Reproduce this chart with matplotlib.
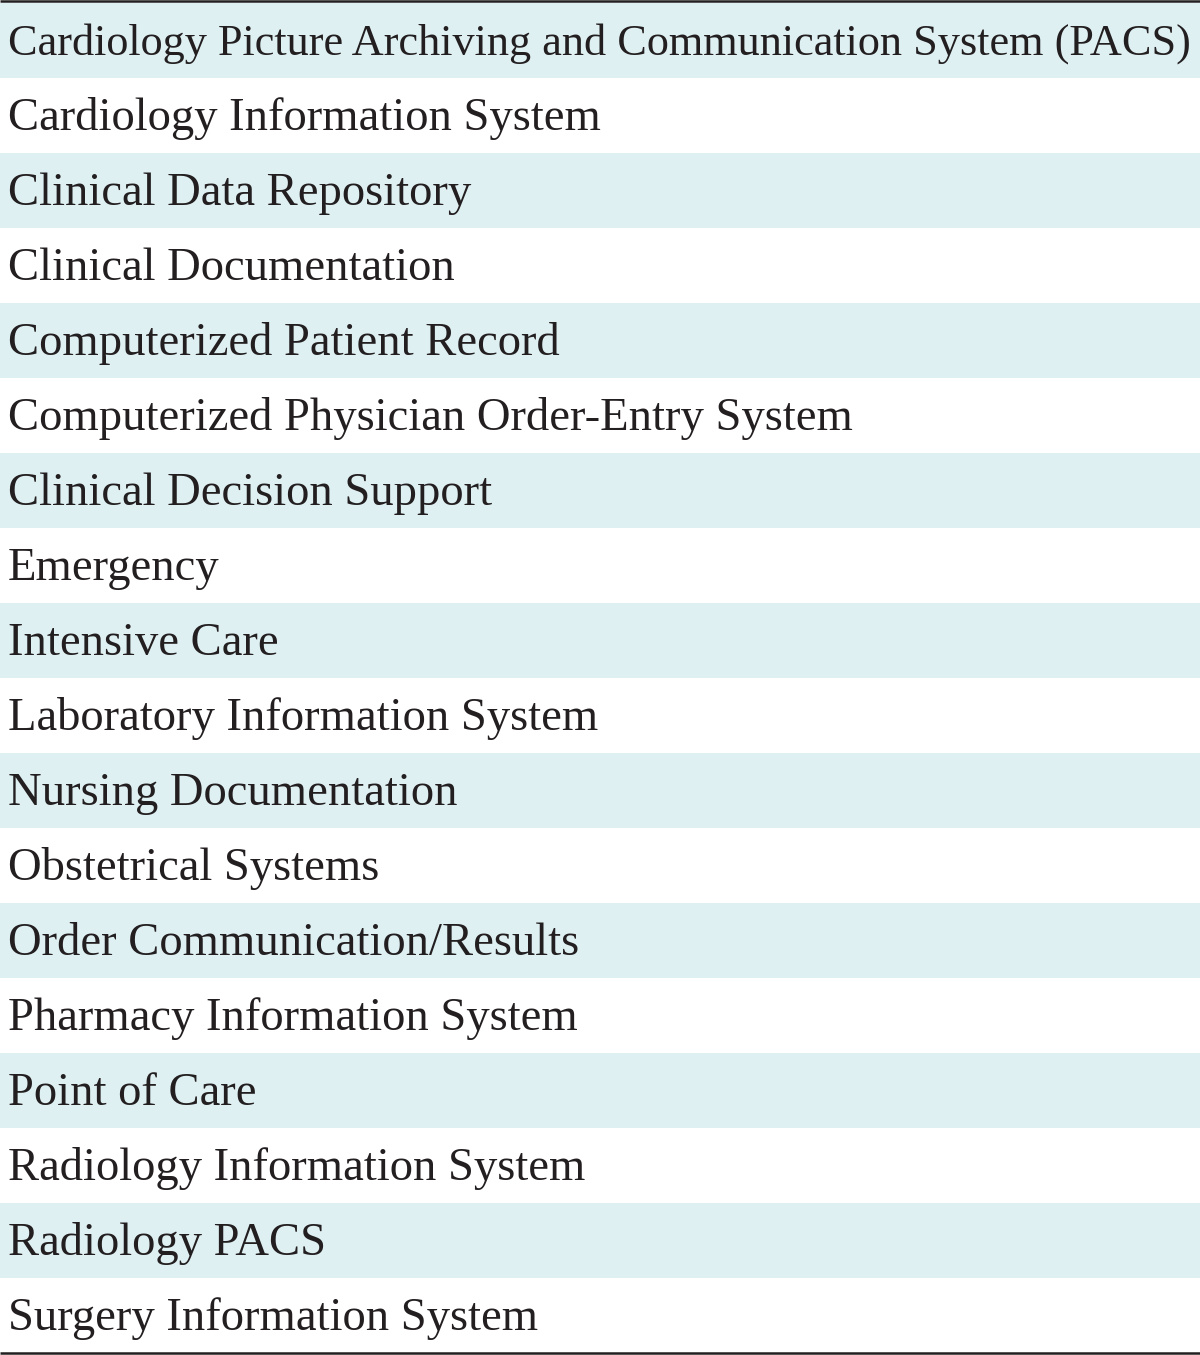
import matplotlib
matplotlib.use("Agg")
import matplotlib.pyplot as plt
from matplotlib.patches import Rectangle

# Sistemas listados na tabela
systems = [
    "Cardiology Picture Archiving and Communication System (PACS)",
    "Cardiology Information System",
    "Clinical Data Repository",
    "Clinical Documentation",
    "Computerized Patient Record",
    "Computerized Physician Order-Entry System",
    "Clinical Decision Support",
    "Emergency",
    "Intensive Care",
    "Laboratory Information System",
    "Nursing Documentation",
    "Obstetrical Systems",
    "Order Communication/Results",
    "Pharmacy Information System",
    "Point of Care",
    "Radiology Information System",
    "Radiology PACS",
    "Surgery Information System",
]

W, H = 1200, 1355
top, row_h = 2.5, 75.0
shade = "#dff0f3"
fsize = 33.6

fig = plt.figure(figsize=(12, 13.55), dpi=100)
ax = fig.add_axes([0, 0, 1, 1])
ax.set_xlim(0, W)
ax.set_ylim(H, 0)
ax.axis("off")

texts = []
for i, name in enumerate(systems):
    y0 = top + i * row_h
    if i % 2 == 0:
        ax.add_patch(Rectangle((0, y0), W, row_h, facecolor=shade, edgecolor="none"))
    t = ax.text(8, y0 + 52.5, name, fontsize=fsize, family="Liberation Serif",
                color="#231f20", va="baseline", ha="left")
    texts.append(t)

# encolhe o texto que não cabe na largura (linha do PACS)
renderer = fig.canvas.get_renderer()
for t in texts:
    bb = t.get_window_extent(renderer)
    if bb.x1 > 1191:
        t.set_fontsize(fsize * (1183 / bb.width))

# linhas superior e inferior
bottom = top + len(systems) * row_h
ax.plot([0, W], [1.2, 1.2], color="#231f20", lw=1.8, solid_capstyle="butt")
ax.plot([0, W], [bottom + 0.5, bottom + 0.5], color="#231f20", lw=1.8, solid_capstyle="butt")

fig.savefig("out.png", dpi=100)
